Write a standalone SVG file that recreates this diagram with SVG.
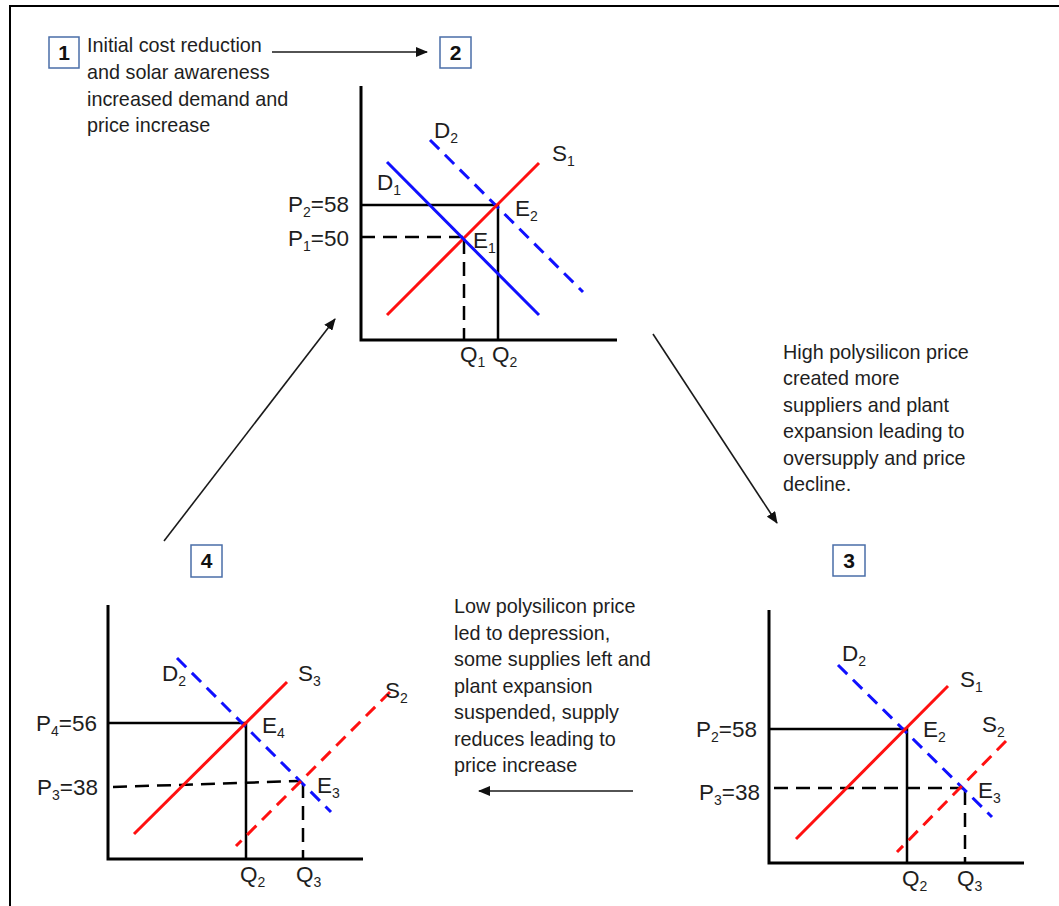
<svg xmlns="http://www.w3.org/2000/svg" width="1059" height="906" viewBox="0 0 1059 906">
<style>
.body{font-family:"Liberation Sans",Arial,sans-serif;font-size:19.8px;fill:#1e1e1e}
.lbl{font-family:"Liberation Sans",Arial,sans-serif;font-size:22.5px;fill:#1e1e1e}
.sb{font-size:14px}
.num{font-family:"Liberation Sans",Arial,sans-serif;font-size:21px;font-weight:bold;fill:#111;text-anchor:middle}
.box{fill:#fff;stroke:#4a6ea8;stroke-width:1.5}
.axis{fill:none;stroke:#000;stroke-width:3}
.solid{fill:none;stroke:#000;stroke-width:2.5}
.dash{fill:none;stroke:#000;stroke-width:2.5;stroke-dasharray:14 8}
.sup{stroke:#ff1010;stroke-width:3}
.supd{stroke:#ff1010;stroke-width:3;stroke-dasharray:13 8}
.dem{stroke:#1010ff;stroke-width:3}
.demd{stroke:#1010ff;stroke-width:3;stroke-dasharray:13 8}
.conn{stroke:#1a1a1a;stroke-width:1.6;fill:none;marker-end:url(#ah)}
</style>
<defs>
<marker id="ah" viewBox="0 0 12 10" refX="11" refY="5" markerWidth="12" markerHeight="10" markerUnits="userSpaceOnUse" orient="auto">
<path d="M0,0 L12,5 L0,10 z" fill="#111"/>
</marker>
</defs>
<rect x="10" y="6" width="1100" height="1000" fill="#fff" stroke="#000" stroke-width="2"/>

<g id="step1">
<rect class="box" x="49" y="37" width="30" height="31"/>
<text class="num" x="64" y="60">1</text>
<text class="body"><tspan x="87" y="52">Initial cost reduction</tspan><tspan x="87" y="79">and solar awareness</tspan><tspan x="87" y="106">increased demand and</tspan><tspan x="87" y="132">price increase</tspan></text>
</g>

<g id="step2">
<rect class="box" x="440" y="37" width="31" height="31"/>
<text class="num" x="455.5" y="60">2</text>
<path class="axis" d="M361,86 V340 H617"/>
<path class="solid" d="M361,205 H498 V340"/>
<path class="dash" d="M361,237 H464"/>
<path class="dash" d="M464,240 V340"/>
<line class="demd" x1="430" y1="140" x2="583" y2="292"/>
<line class="sup" x1="387" y1="315" x2="539" y2="163"/>
<line class="dem" x1="387" y1="162" x2="539" y2="315"/>
<text class="lbl" x="349" y="212" text-anchor="end">P<tspan class="sb" dy="5">2</tspan><tspan dy="-5">=58</tspan></text>
<text class="lbl" x="349" y="246" text-anchor="end">P<tspan class="sb" dy="5">1</tspan><tspan dy="-5">=50</tspan></text>
<text class="lbl" x="434" y="138">D<tspan class="sb" dy="5">2</tspan></text>
<text class="lbl" x="552" y="161">S<tspan class="sb" dy="5">1</tspan></text>
<text class="lbl" x="377" y="190">D<tspan class="sb" dy="5">1</tspan></text>
<text class="lbl" x="515" y="216">E<tspan class="sb" dy="5">2</tspan></text>
<text class="lbl" x="473" y="248">E<tspan class="sb" dy="5">1</tspan></text>
<text class="lbl" x="460" y="362">Q<tspan class="sb" dy="5">1</tspan></text>
<text class="lbl" x="492" y="362">Q<tspan class="sb" dy="5">2</tspan></text>
</g>

<g id="step3">
<rect class="box" x="833" y="545" width="32" height="31"/>
<text class="num" x="849" y="568">3</text>
<path class="axis" d="M769,610 V863 H1024"/>
<path class="solid" d="M769,729 H907 V863"/>
<path class="dash" d="M774,788 H963"/>
<path class="dash" d="M965,791 V863"/>
<line class="demd" x1="838" y1="665" x2="992" y2="817"/>
<line class="sup" x1="796" y1="839" x2="948" y2="686"/>
<line class="supd" x1="1006" y1="741" x2="897" y2="852"/>
<text class="lbl" x="757" y="737" text-anchor="end">P<tspan class="sb" dy="5">2</tspan><tspan dy="-5">=58</tspan></text>
<text class="lbl" x="760" y="800" text-anchor="end">P<tspan class="sb" dy="5">3</tspan><tspan dy="-5">=38</tspan></text>
<text class="lbl" x="842" y="661">D<tspan class="sb" dy="5">2</tspan></text>
<text class="lbl" x="960" y="687">S<tspan class="sb" dy="5">1</tspan></text>
<text class="lbl" x="923" y="737">E<tspan class="sb" dy="5">2</tspan></text>
<text class="lbl" x="982" y="732">S<tspan class="sb" dy="5">2</tspan></text>
<text class="lbl" x="978" y="798">E<tspan class="sb" dy="5">3</tspan></text>
<text class="lbl" x="902" y="886">Q<tspan class="sb" dy="5">2</tspan></text>
<text class="lbl" x="957" y="886">Q<tspan class="sb" dy="5">3</tspan></text>
</g>

<g id="step4">
<rect class="box" x="191" y="545" width="31" height="32"/>
<text class="num" x="206.5" y="568">4</text>
<path class="axis" d="M108,605 V859 H363"/>
<path class="solid" d="M108,723 H246 V859"/>
<path class="dash" d="M113,787 L300,781"/>
<path class="dash" d="M303,784 V859"/>
<line class="demd" x1="177" y1="658" x2="331" y2="812"/>
<line class="sup" x1="134" y1="834" x2="287" y2="682"/>
<line class="supd" x1="390" y1="692" x2="236" y2="846"/>
<text class="lbl" x="97" y="731" text-anchor="end">P<tspan class="sb" dy="5">4</tspan><tspan dy="-5">=56</tspan></text>
<text class="lbl" x="98" y="795" text-anchor="end">P<tspan class="sb" dy="5">3</tspan><tspan dy="-5">=38</tspan></text>
<text class="lbl" x="162" y="681">D<tspan class="sb" dy="5">2</tspan></text>
<text class="lbl" x="298" y="681">S<tspan class="sb" dy="5">3</tspan></text>
<text class="lbl" x="385" y="698">S<tspan class="sb" dy="5">2</tspan></text>
<text class="lbl" x="262" y="733">E<tspan class="sb" dy="5">4</tspan></text>
<text class="lbl" x="317" y="793">E<tspan class="sb" dy="5">3</tspan></text>
<text class="lbl" x="240" y="882">Q<tspan class="sb" dy="5">2</tspan></text>
<text class="lbl" x="296" y="882">Q<tspan class="sb" dy="5">3</tspan></text>
</g>

<g id="note23">
<text class="body"><tspan x="783" y="359">High polysilicon price</tspan><tspan x="783" y="385">created more</tspan><tspan x="783" y="412">suppliers and plant</tspan><tspan x="783" y="438">expansion leading to</tspan><tspan x="783" y="465">oversupply and price</tspan><tspan x="783" y="491">decline.</tspan></text>
</g>

<g id="note34">
<text class="body"><tspan x="454" y="613">Low polysilicon price</tspan><tspan x="454" y="640">led to depression,</tspan><tspan x="454" y="666">some supplies left and</tspan><tspan x="454" y="693">plant expansion</tspan><tspan x="454" y="719">suspended, supply</tspan><tspan x="454" y="746">reduces leading to</tspan><tspan x="454" y="772">price increase</tspan></text>
</g>

<g id="connectors">
<line class="conn" x1="272" y1="52" x2="427" y2="52"/>
<line class="conn" x1="653" y1="334" x2="777" y2="523"/>
<line class="conn" x1="633" y1="791" x2="479" y2="791"/>
<line class="conn" x1="164" y1="541" x2="335" y2="319"/>
</g>
</svg>
